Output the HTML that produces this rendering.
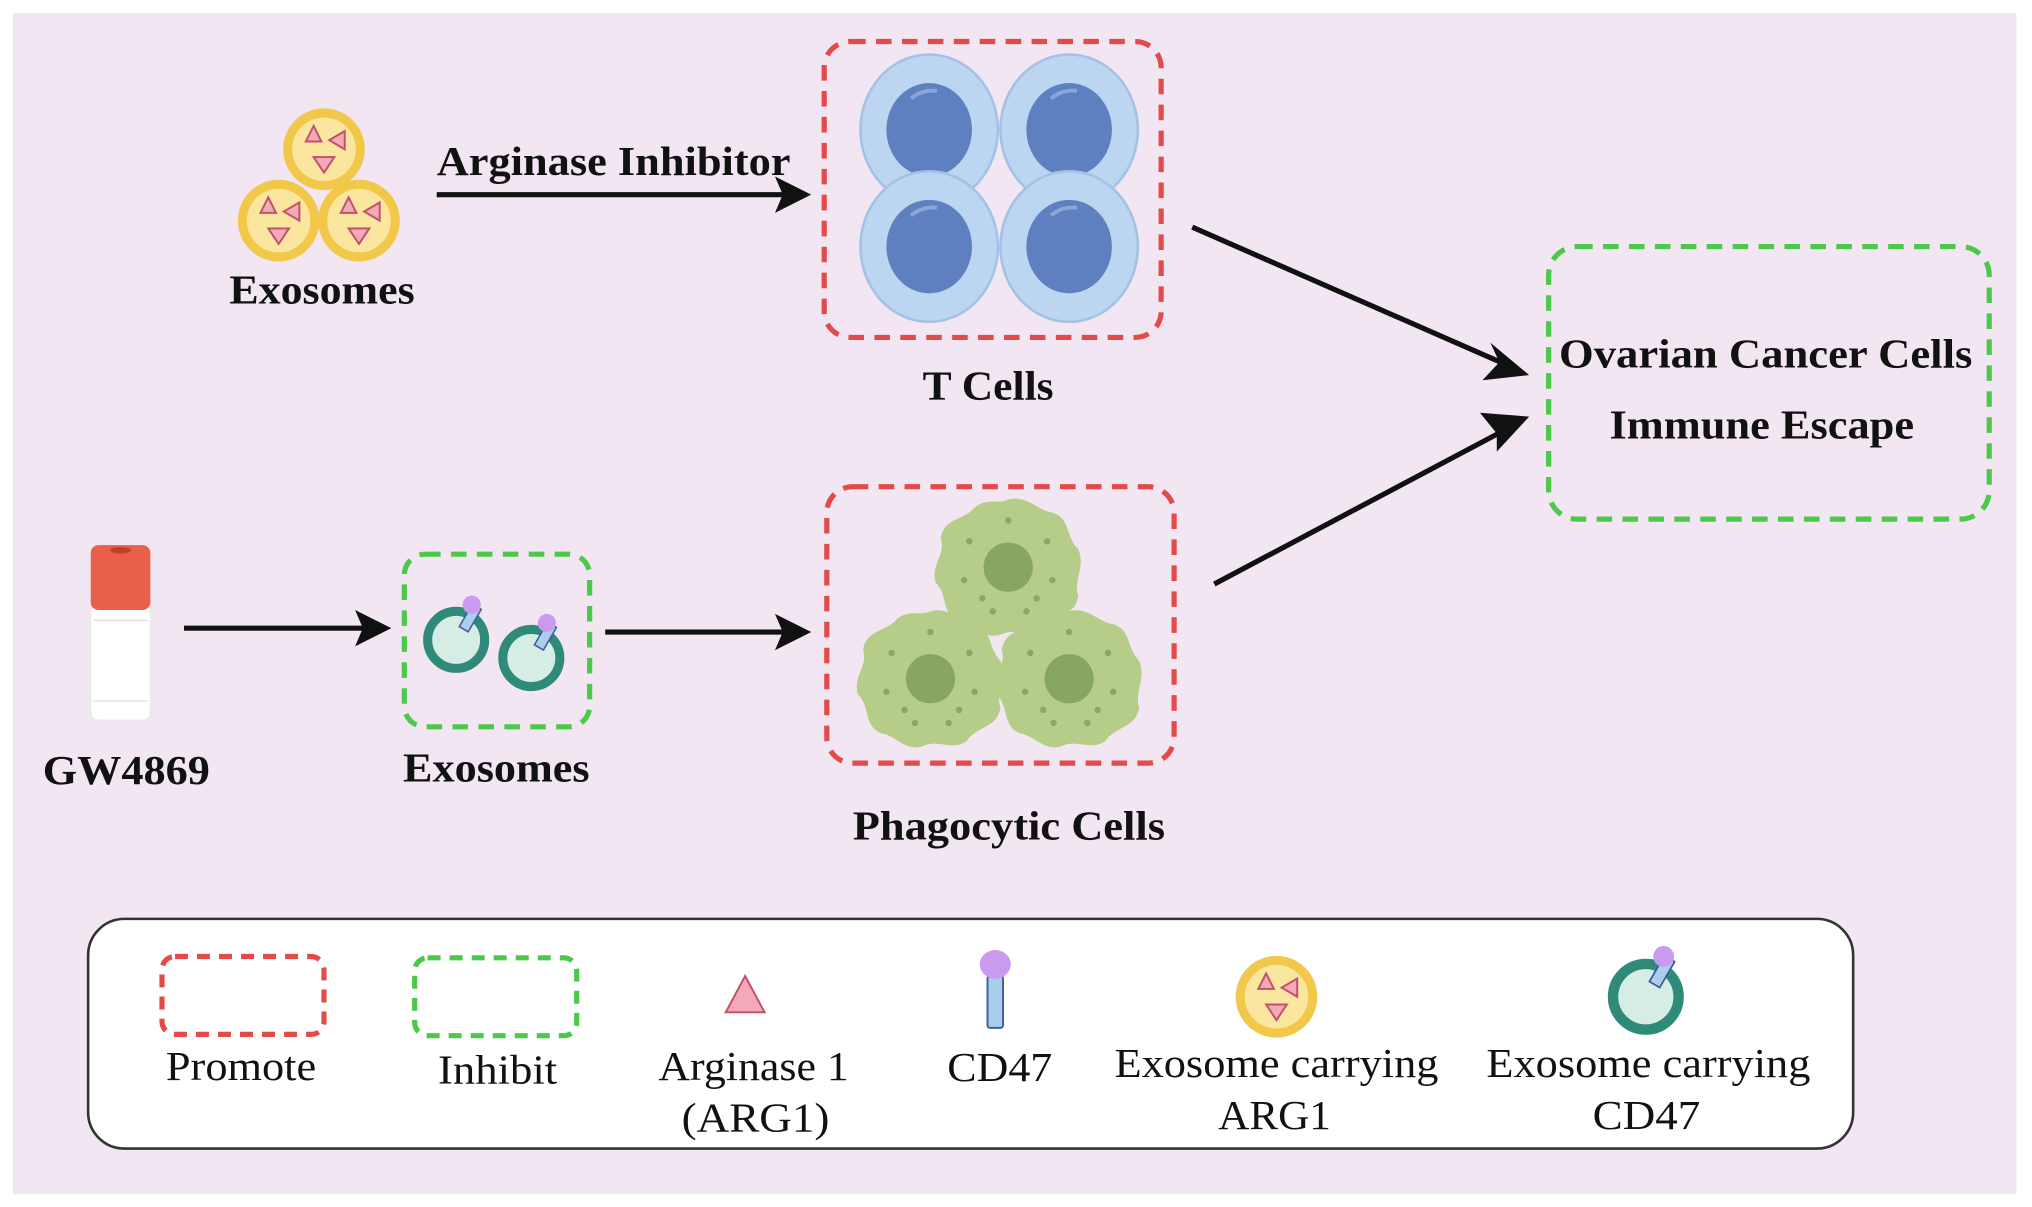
<!DOCTYPE html>
<html><head><meta charset="utf-8"><style>
html,body{margin:0;padding:0;background:#fff;width:2032px;height:1207px;overflow:hidden}
svg{display:block}
text{font-family:"Liberation Serif",serif;fill:#111}
.b{font-weight:bold;font-size:32px}
.r{font-size:32px}
</style></head><body>
<svg width="2032" height="1207" viewBox="0 0 1568 930" preserveAspectRatio="none" xmlns="http://www.w3.org/2000/svg">
<defs>
<g id="yex">
<circle r="28" fill="#fbe6a0" stroke="#f2c84a" stroke-width="7"/>
<polygon points="-14,-6 -2,-6 -8,-18" fill="#f4a9b8" stroke="#c0506a" stroke-width="1.5"/>
<polygon points="16,-14 16,0 4,-7" fill="#f4a9b8" stroke="#c0506a" stroke-width="1.5"/>
<polygon points="-8,6 8,6 0,18" fill="#f4a9b8" stroke="#c0506a" stroke-width="1.5"/>
</g>
<g id="tex">
<circle r="22" fill="#d6ede6" stroke="#2f8a7a" stroke-width="7"/>
<rect x="-3" y="-30" width="8" height="20" fill="#a9cfea" stroke="#3f5f9a" stroke-width="1.2" transform="rotate(30)"/>
<circle cx="12" cy="-27" r="7" fill="#c99af0"/>
</g>
<g id="tc">
<ellipse rx="53" ry="58" fill="#bcd5f0" stroke="#a4c2e6" stroke-width="2"/>
<ellipse rx="33" ry="36" fill="#5f80c0"/>
<path d="M-14,-24 a26,26 0 0 1 20,-6" stroke="#8aa6da" stroke-width="3" fill="none"/>
</g>
<g id="ph">
<path d="M0,-52 C14,-56 22,-44 34,-42 C48,-38 44,-24 54,-14 C60,0 50,10 54,22 C52,38 36,36 28,48 C16,56 6,46 -6,52 C-20,56 -26,44 -38,42 C-52,36 -46,22 -56,12 C-60,-2 -48,-10 -52,-22 C-50,-38 -34,-36 -26,-46 C-16,-54 -8,-48 0,-52Z" fill="#b6cd8a"/>
<circle r="19" fill="#88a65f"/>
<g fill="#8aa862"><circle cx="-30" cy="-20" r="2.5"/><circle cx="30" cy="-20" r="2.5"/><circle cx="-34" cy="10" r="2.5"/><circle cx="34" cy="10" r="2.5"/><circle cx="-12" cy="34" r="2.5"/><circle cx="14" cy="34" r="2.5"/><circle cx="0" cy="-36" r="2.5"/><circle cx="-20" cy="24" r="2.5"/><circle cx="22" cy="24" r="2.5"/></g>
</g>
</defs>
<rect x="10" y="10" width="1546" height="910" fill="#f2e6f2"/>

<use href="#yex" x="250" y="115"/>
<use href="#yex" x="215" y="170"/>
<use href="#yex" x="277" y="170"/>
<text class="b" x="177" y="234" textLength="143" lengthAdjust="spacingAndGlyphs">Exosomes</text>
<text class="b" x="337" y="135" textLength="273" lengthAdjust="spacingAndGlyphs">Arginase Inhibitor</text>
<line x1="337" y1="150" x2="605" y2="150" stroke="#111" stroke-width="4"/>
<polygon points="626,150 598,136 604,150 598,164" fill="#111"/>

<rect x="636" y="32" width="260" height="228" rx="20" fill="none" stroke="#e34a4a" stroke-width="4" stroke-dasharray="12,8"/>
<use href="#tc" x="717" y="100"/>
<use href="#tc" x="825" y="100"/>
<use href="#tc" x="717" y="190"/>
<use href="#tc" x="825" y="190"/>
<text class="b" x="712" y="308" textLength="101" lengthAdjust="spacingAndGlyphs">T Cells</text>

<line x1="920" y1="175" x2="1160" y2="280" stroke="#111" stroke-width="4"/>
<polygon points="1180,289 1150,264 1157,279 1144,293" fill="#111"/>
<line x1="937" y1="450" x2="1160" y2="332" stroke="#111" stroke-width="4"/>
<polygon points="1180,321 1142,318 1155,334 1155,348" fill="#111"/>

<rect x="1195" y="190" width="340" height="210" rx="22" fill="none" stroke="#4cc94a" stroke-width="4" stroke-dasharray="12,8"/>
<text class="b" x="1203" y="283" textLength="319" lengthAdjust="spacingAndGlyphs">Ovarian Cancer Cells</text>
<text class="b" x="1242" y="338" textLength="235" lengthAdjust="spacingAndGlyphs">Immune Escape</text>

<rect x="70" y="465" width="46" height="90" rx="6" fill="#fff" stroke="#e8e8e8"/>
<line x1="72" y1="478" x2="114" y2="478" stroke="#ddd"/>
<line x1="72" y1="540" x2="114" y2="540" stroke="#ddd"/>
<rect x="70" y="420" width="46" height="50" rx="6" fill="#e8604a"/>
<ellipse cx="93" cy="424" rx="8" ry="2.5" fill="#c0402e"/>
<text class="b" x="33" y="604" textLength="129" lengthAdjust="spacingAndGlyphs">GW4869</text>
<line x1="142" y1="484" x2="282" y2="484" stroke="#111" stroke-width="4"/>
<polygon points="302,484 274,470 280,484 274,498" fill="#111"/>

<rect x="312" y="427" width="143" height="133" rx="16" fill="none" stroke="#4cc94a" stroke-width="4" stroke-dasharray="12,8"/>
<use href="#tex" x="352" y="493"/>
<use href="#tex" x="410" y="507"/>
<text class="b" x="311" y="602" textLength="144" lengthAdjust="spacingAndGlyphs">Exosomes</text>
<line x1="467" y1="487" x2="605" y2="487" stroke="#111" stroke-width="4"/>
<polygon points="626,487 598,473 604,487 598,501" fill="#111"/>

<rect x="638" y="375" width="268" height="213" rx="20" fill="none" stroke="#e34a4a" stroke-width="4" stroke-dasharray="12,8"/>
<use href="#ph" x="778" y="437"/>
<use href="#ph" x="718" y="523"/>
<use href="#ph" x="825" y="523"/>
<text class="b" x="658" y="647" textLength="241" lengthAdjust="spacingAndGlyphs">Phagocytic Cells</text>

<rect x="68" y="708" width="1362" height="177" rx="28" fill="#fff" stroke="#333" stroke-width="2"/>
<rect x="125" y="737" width="125" height="60" rx="10" fill="none" stroke="#e34a4a" stroke-width="4" stroke-dasharray="10,7"/>
<rect x="320" y="738" width="125" height="60" rx="10" fill="none" stroke="#4cc94a" stroke-width="4" stroke-dasharray="10,7"/>
<polygon points="575,752 560,780 590,780" fill="#f4a9b8" stroke="#c0506a" stroke-width="1.5"/>
<rect x="762" y="752" width="12" height="40" rx="2" fill="#a9cfea" stroke="#3f5f9a" stroke-width="1.5"/>
<ellipse cx="768" cy="743" rx="12" ry="11" fill="#c99af0"/>
<use href="#yex" x="985" y="768"/>
<g transform="translate(1270,768) scale(1.15)"><use href="#tex"/></g>
<text class="r" x="128" y="832" textLength="116" lengthAdjust="spacingAndGlyphs">Promote</text>
<text class="r" x="338" y="835" textLength="92" lengthAdjust="spacingAndGlyphs">Inhibit</text>
<text class="r" x="508" y="832" textLength="147" lengthAdjust="spacingAndGlyphs">Arginase 1</text>
<text class="r" x="526" y="872" textLength="114" lengthAdjust="spacingAndGlyphs">(ARG1)</text>
<text class="r" x="731" y="833" textLength="81" lengthAdjust="spacingAndGlyphs">CD47</text>
<text class="r" x="860" y="830" textLength="250" lengthAdjust="spacingAndGlyphs">Exosome carrying</text>
<text class="r" x="940" y="870" textLength="87" lengthAdjust="spacingAndGlyphs">ARG1</text>
<text class="r" x="1147" y="830" textLength="250" lengthAdjust="spacingAndGlyphs">Exosome carrying</text>
<text class="r" x="1229" y="870" textLength="83" lengthAdjust="spacingAndGlyphs">CD47</text>
</svg>
</body></html>
